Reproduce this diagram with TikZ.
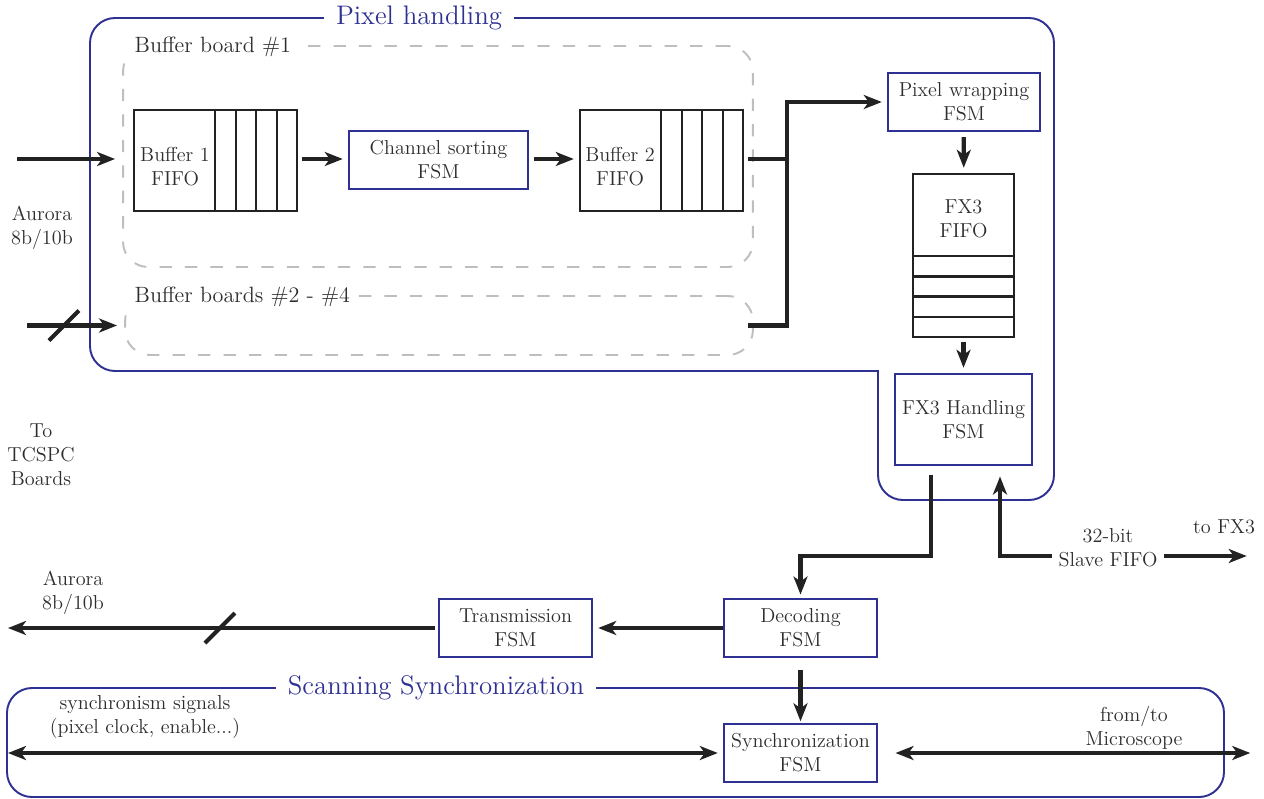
\documentclass[tikz,border=0pt]{standalone}
\usepackage{xcolor}
\usepackage{tikz}
\usetikzlibrary{arrows.meta,positioning,calc}
\definecolor{phblue}{RGB}{46,49,146}
\definecolor{linec}{RGB}{34,34,34}
\definecolor{txtc}{RGB}{45,45,45}
\definecolor{dashc}{RGB}{190,190,190}
\newcommand{\regiontitle}[1]{\scalebox{1.06}{#1}}

\begin{document}
\begin{tikzpicture}[
    x=0.02cm, y=-0.02cm,
    font=\fontsize{11.5}{13.6}\selectfont,
    text=txtc,
    fsm/.style={rectangle, draw=phblue, line width=1.1pt, align=center, inner sep=1pt},
    fifo/.style={rectangle, draw=linec, line width=1.1pt, inner sep=1pt},
    fcell/.style={rectangle, draw=linec, line width=1.4pt, inner sep=0pt},
    board/.style={rectangle, draw=dashc, line width=1.1pt, dash pattern=on 7pt off 7.5pt, rounded corners=0.5cm},
    boardlbl/.style={fill=white, anchor=west, font=\fontsize{12.6}{14.5}\selectfont, inner xsep=3pt, inner ysep=1pt},
    region/.style={draw=phblue, line width=1.1pt, rounded corners=0.5cm},
    regionlbl/.style={fill=white, text=phblue, font=\fontsize{14.4}{17}\selectfont, inner xsep=7pt, inner ysep=1pt},
    wire/.style={draw=linec, line width=2.4pt},
    arrow/.style={wire, -{Stealth[length=3.6mm, width=2.8mm, inset=1mm]}, shorten >=3pt},
    darrow/.style={wire, {Stealth[length=3.6mm, width=2.8mm, inset=1mm]}-{Stealth[length=3.6mm, width=2.8mm, inset=1mm]}, shorten >=3pt}
]
    \useasboundingbox (0,0) rectangle (1264,798);

    % --- Regions ---
    \draw[region, line cap=rect] (878,371) -- (878,500) -- (1054,500) -- (1054,18) -- (90,18) -- (90,371) -- (878,371);
    \node[regionlbl] (phlbl) at (419,18) {\regiontitle{Pixel handling}};

    \draw[region] (7,688) rectangle (1224,797);
    \node[regionlbl] (sslbl) at (436,688) {\regiontitle{Scanning Synchronization}};

    % --- Buffer boards ---
    \node[board, minimum width=12.6cm, minimum height=4.42cm] (bb1) at (438,156.5) {};
    \node[boardlbl] (bb1lbl) at ([xshift=0.14cm, yshift=-0.03cm]bb1.north west) {Buffer board \#1};

    \node[board, minimum width=12.56cm, minimum height=1.18cm] (bbr) at (439,325.5) {};
    \node[boardlbl] (bbrlbl) at ([xshift=0.1cm, yshift=-0.03cm]bbr.north west) {Buffer boards \#2 - \#4};

    % --- Buffer board #1 contents ---
    \node[fifo, minimum width=1.62cm, minimum height=2.02cm] (buf1) at (174.5,160.5) {};
    \node[align=center] (buf1txt) at (175,167) {Buffer 1\\FIFO};
    \foreach \i in {1,...,4}
        \node[fcell, minimum width=0.41cm, minimum height=2.02cm] (buf1c\i) at (205+20.5*\i,160.5) {};

    \node[fsm, minimum width=3.58cm, minimum height=1.16cm] (chsort) at (438.5,160) {Channel sorting\\FSM};

    \node[fifo, minimum width=1.62cm, minimum height=2.02cm] (buf2) at (620.5,160.5) {};
    \node[align=center] (buf2txt) at (620,167) {Buffer 2\\FIFO};
    \foreach \i in {1,...,4}
        \node[fcell, minimum width=0.41cm, minimum height=2.02cm] (buf2c\i) at (651+20.5*\i,160.5) {};

    % --- FX3 side ---
    \node[fsm, minimum width=3.04cm, minimum height=1.16cm] (pixwrap) at (964,102) {Pixel wrapping\\FSM};

    \node[fifo, minimum width=2.02cm, minimum height=1.64cm] (fxfifo) at (963.5,215) {};
    \node[align=center] (fxtxt) at (963.5,219) {FX3\\FIFO};
    \foreach \i in {1,...,4}
        \node[fcell, minimum width=2.02cm, minimum height=0.405cm] (fxc\i) at (963.5,245.9+20.25*\i) {};

    \node[fsm, minimum width=2.74cm, minimum height=1.82cm] (fxhand) at (963.5,419.5) {FX3 Handling\\FSM};

    % --- Lower FSMs ---
    \node[fsm, minimum width=3.06cm, minimum height=1.16cm] (decod) at (800.5,628) {Decoding\\FSM};
    \node[fsm, minimum width=3.06cm, minimum height=1.16cm] (transm) at (515.5,628) {Transmission\\FSM};
    \node[fsm, minimum width=3.06cm, minimum height=1.16cm] (syncfsm) at (800.5,753) {Synchronization\\FSM};

    % --- Free texts ---
    \node[align=center] (aurin) at (42,228) {Aurora\\8b/10b};
    \node[align=center] (tcspc) at (41,455) {To\\TCSPC\\Boards};
    \node[align=center] (aurout) at (73,593) {Aurora\\8b/10b};
    \node[align=center] (synclbl) at (145,717) {synchronism signals\\(pixel clock, enable...)};
    \node[align=center] (microlbl) at (1134,728) {from/to\\Microscope};
    \node (fx3lbl) at (1224,527) {to FX3};
    \node[align=center] (slave) at (1108,548) {32-bit\\Slave FIFO};

    % --- Free ends ---
    \coordinate (inA) at (17,159);
    \coordinate (inB) at (27,325.5);
    \coordinate (junc) at (787,159);
    \coordinate (busY) at (0,556);
    \coordinate (fx3out) at (1252,556);
    \coordinate (auOut) at (8,628);
    \coordinate (syncL) at (8,753);
    \coordinate (microR) at (1252,753);
    \coordinate (slashA) at (64,325.5);
    \coordinate (slashB) at (220,628);

    % --- Inputs ---
    \draw[arrow, shorten >=4pt] (inA) -- (inA -| bb1.west);
    \draw[arrow, shorten >=4pt] (inB) -- (inB -| bbr.west);
    \draw[wire] ($(slashA)+(-15,15)$) -- ($(slashA)+(15,-15)$);

    % --- Buffer chain ---
    \draw[arrow, shorten <=2pt] (junc -| buf1c4.east) -- (junc -| chsort.west);
    \draw[arrow, shorten <=3pt] (junc -| chsort.east) -- (junc -| buf2.west);
    \draw[wire, shorten <=2pt] (junc -| buf2c4.east) -- (junc);
    \draw[arrow] ($(bbr.east)+(-6,0)$) -| (junc) |- (pixwrap.west);

    % --- FX3 path ---
    \draw[arrow, shorten <=3pt] (pixwrap) -- (fxfifo);
    \draw[arrow, shorten <=2pt] (fxc4) -- (fxhand);
    \draw[arrow, shorten <=5pt, shorten >=2pt] ([xshift=-0.65cm]fxhand.south) |- (busY -| decod.north) -- (decod.north);
    \draw[arrow, shorten >=6pt] (slave.west |- busY) -| ([xshift=0.73cm]fxhand.south);
    \draw[arrow] (slave.east |- busY) -- (fx3out);

    % --- Decoding outputs ---
    \draw[arrow] (decod) -- (transm);
    \draw[arrow, shorten <=2pt, shorten >=0pt] (transm) -- (auOut);
    \draw[wire] ($(slashB)+(-15,15)$) -- ($(slashB)+(15,-15)$);
    \draw[arrow, shorten <=7pt, shorten >=1pt] (decod) -- (syncfsm);

    % --- Synchronization ---
    \draw[darrow] (syncL) -- (syncfsm.west);
    \draw[darrow, shorten <=10pt, shorten >=1pt] (syncfsm.east) -- (microR);

\end{tikzpicture}
\end{document}
